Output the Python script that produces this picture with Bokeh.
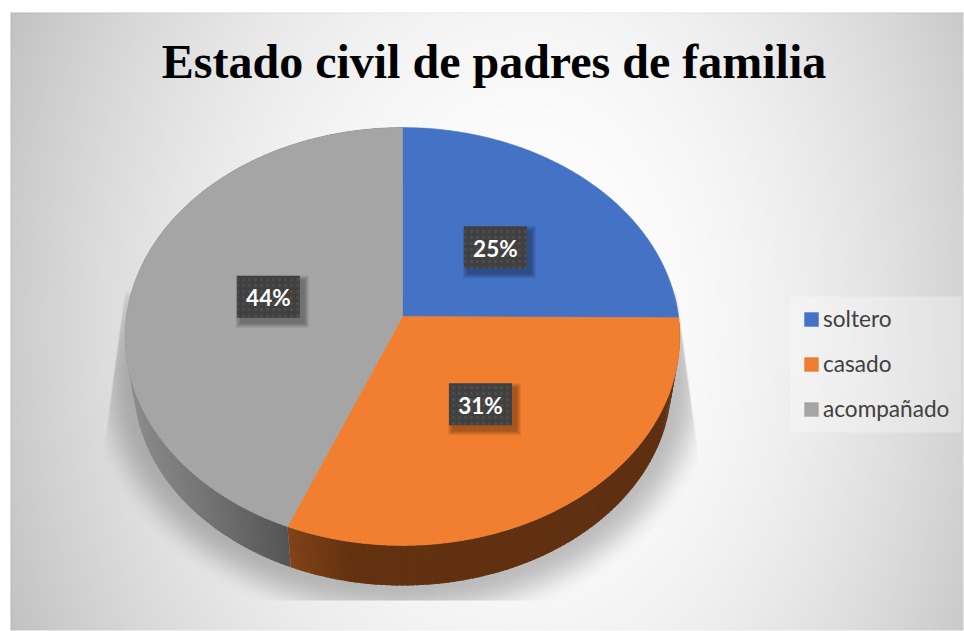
import numpy as np
from bokeh.plotting import figure
from bokeh.models import Range1d, Legend, LegendItem
from bokeh.core.properties import value
from bokeh.embed import file_html
from bokeh.resources import INLINE

title_text = "Estado civil de padres de familia"
categories = ["soltero", "casado", "acompañado"]
percent = [25.1, 31.1, 43.8]
top_colors = ["#4472c4", "#f27f30", "#a5a5a5"]
legend_colors = ["#4472c4", "#ed7d31", "#a5a5a5"]
# side-wall shading: (screen x, colour) stops
side_stops = {
    1: ([287, 350, 680], [(128, 66, 22), (98, 49, 16), (94, 47, 17)]),
    2: ([125, 200, 290], [(140, 140, 140), (118, 118, 118), (84, 84, 84)]),
}

W, H = 964, 631
X0, Y0 = 0, 0
CX, CY, AX, BY, K = 402.0, 316.0, 276.0, 207.0, 0.0957
SIDE_SCALE, SIDE_DROP = 0.97, 47.0
LABEL_R = [0.49, 0.49, 0.50]


def rim(theta_deg, r=1.0, scale=1.0, drop=0.0):
    t = np.radians(theta_deg)
    u, v = r * np.sin(t), -r * np.cos(t)
    d = 1 - K * v
    return CX + scale * AX * u / d, CY + drop + scale * BY * v / d


def backdrop():
    left, top, right, bottom = 10, 12, 963, 630
    xx, yy = np.meshgrid(np.arange(left, right) + 0.5, np.arange(top, bottom) + 0.5)
    dx = np.where(xx < 530, (xx - 530) / 520, (xx - 530) / 470)
    dy = (yy - 321) / 309
    grey = 255 - 61 * (dx ** 2 + 0.2 * dy ** 2) / 1.2
    # soft cast shadow under the disc
    ex, ey = (xx - CX) / 269, (yy - 382.0) / 203
    e = np.sqrt(ex ** 2 + ey ** 2) + 1e-6
    radial = np.hypot(xx - CX, yy - 382.0)
    d = np.clip(radial * (1 - 1 / e), 0, None)
    s = np.clip(1 - d / 48, 0, 1)
    s = s * s * (3 - 2 * s)
    mask_left = np.clip(xx - (125 - (yy - 290) * 21 / 155) + 0.5, 0, 1)
    mask_right = np.clip((678 + (yy - 310) * 19 / 140) - xx + 0.5, 0, 1)
    mask_bottom = np.clip(600 - yy + 0.5, 0, 1)
    mask_top = np.clip((yy - 290) / 6, 0, 1)
    grey = grey * (1 - 0.24 * s * mask_left * mask_right * mask_bottom * mask_top)
    grey[0, :] -= 12
    grey[:, 0] -= 12
    g = np.clip(grey, 0, 255).astype(np.uint32)
    return (255 << 24 | g << 16 | g << 8 | g), left, top, right - left, bottom - top


p = figure(width=W, height=H, output_backend="svg", toolbar_location=None,
           x_range=Range1d(X0, X0 + W), y_range=Range1d(Y0 + H, Y0),
           min_border=0, x_axis_type=None, y_axis_type=None, outline_line_color=None,
           border_fill_color="white", background_fill_color="white")
p.grid.visible = False

img, ix, iy, iw, ih = backdrop()
p.image_rgba(image=[img], x=ix, y=iy, dw=iw, dh=ih)

# slice angles from the values
edges = np.concatenate([[0], np.cumsum(percent)]) / sum(percent) * 360.0

# side wall
for i in (2, 1):
    a0, a1 = edges[i], edges[i + 1]
    ts = np.arange(a0, a1 + 1e-6, 1.0)
    if ts[-1] < a1:
        ts = np.append(ts, a1)
    if i == 1:
        ts = ts[::-1]  # paint towards the slice boundary so it stays crisp
    xs, ys, cols = [], [], []
    sx, sc = side_stops[i]
    sc = np.array(sc, dtype=float)
    for j, (t0, t1) in enumerate(zip(ts[:-1], ts[1:])):
        t1x = t1 + (t1 - t0) * 0.6 if j < len(ts) - 2 else t1  # overlap the next strip, no seams
        segs = np.linspace(t0, t1x, 3)
        xt, yt = rim(segs)
        xb, yb = rim(segs, scale=SIDE_SCALE, drop=SIDE_DROP)
        xs.append(list(xt) + list(xb[::-1]))
        ys.append(list(yt) + list(yb[::-1]))
        c = [np.interp(xt[0], sx, sc[:, k]) for k in range(3)]
        cols.append("#%02x%02x%02x" % tuple(int(round(v)) for v in c))
    p.patches(xs, ys, fill_color=cols, line_color=None)

# top faces
for i in range(3):
    ts = np.linspace(edges[i], edges[i + 1], 120)
    x, y = rim(ts)
    p.patch(np.concatenate([[CX], x]), np.concatenate([[CY], y]),
            fill_color=top_colors[i], line_color=top_colors[i], line_width=0.6)

# swatches for the legend
swatches = [p.patch([CX], [CY], fill_color=c, line_color=None) for c in legend_colors]

# data labels
for i, pct in enumerate(percent):
    mid = (edges[i] + edges[i + 1]) / 2
    lx, ly = rim(mid, r=LABEL_R[i])
    for g in range(5, 0, -1):
        p.rect(lx + 4, ly + 5, 63 + 2 * g, 42 + 2 * g, fill_color="black", fill_alpha=0.07, line_color=None)
    p.rect(lx, ly, 63, 42, fill_color="#404040", line_color=None,
           hatch_pattern="dot", hatch_color="#4e4e4e", hatch_scale=6, hatch_weight=1)
    p.text([lx], [ly + 1], text=[f"{round(pct)}%"], text_color="white", text_font=value("Lato"),
           text_font_style="bold", text_font_size="22.5px", text_align="center", text_baseline="middle")

p.text([493.5], [61], text=[title_text], text_color="black", text_font=value("Liberation Serif"),
       text_font_style="bold", text_font_size="48px", text_align="center", text_baseline="middle")

# legend panel
p.quad(left=[790], right=[961], top=[296], bottom=[432], fill_color="white", fill_alpha=0.3, line_color=None)
legend = Legend(items=[LegendItem(label=c, renderers=[swatches[i]]) for i, c in enumerate(categories)],
                location=(802, H - 432 + 10), orientation="vertical",
                background_fill_alpha=0, border_line_color=None,
                glyph_width=18, glyph_height=18, label_standoff=3,
                label_text_font="Lato", label_text_font_size="22.6px", label_text_color="#404040",
                label_height=14, spacing=18, padding=0, margin=0)
p.add_layout(legend, "center")

open("out.html", "w").write(file_html(p, INLINE))
